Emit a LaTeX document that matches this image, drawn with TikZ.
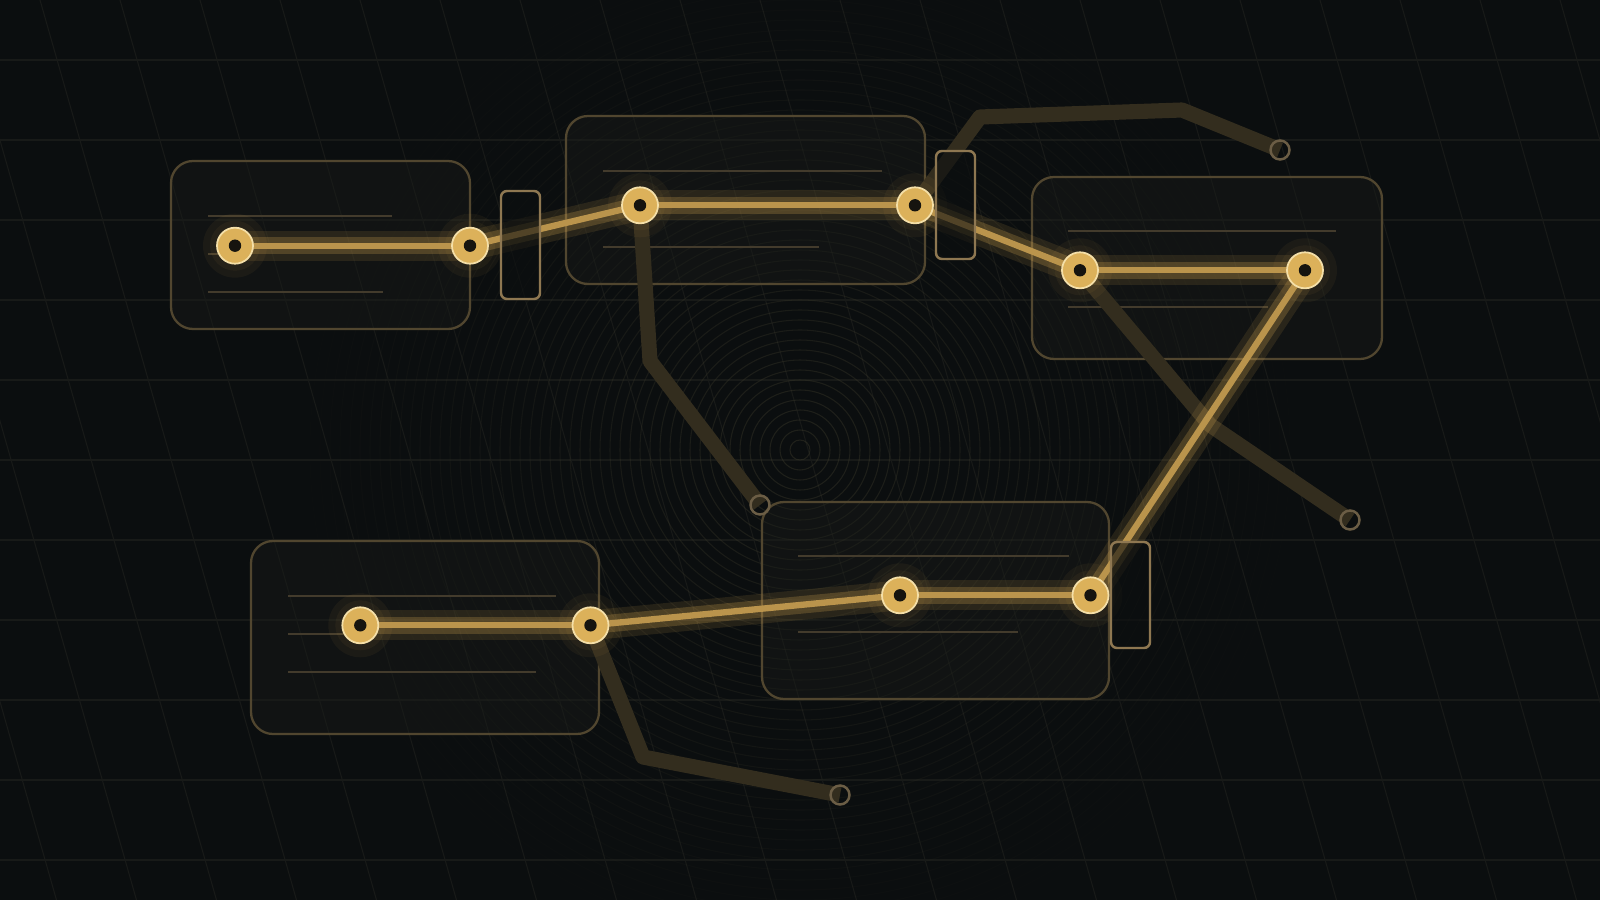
\documentclass[tikz,border=0pt]{standalone}
\usetikzlibrary{positioning}

\definecolor{bg}{HTML}{0B0E0F}
\definecolor{gridcol}{HTML}{181A18}
\definecolor{ringcol}{HTML}{3E3C2C}
\definecolor{cardfill}{HTML}{1A1C19}
\definecolor{cardline}{HTML}{51462F}
\definecolor{barline}{HTML}{433B2C}
\definecolor{gateline}{HTML}{8E7751}
\definecolor{gold}{HTML}{CFA24E}
\definecolor{wirecol}{HTML}{BA944C}
\definecolor{pinfill}{HTML}{DCB15A}
\definecolor{pinring}{HTML}{F4DFA8}
\definecolor{pinhole}{HTML}{16140F}
\definecolor{tracecol}{HTML}{332D1E}
\definecolor{stubline}{HTML}{6B5D45}

\pgfdeclarelayer{under}
\pgfdeclarelayer{wire}
\pgfsetlayers{under,wire,main}

\tikzset{
  gridline/.style={draw=gridcol, line width=0.3pt},
  ring/.style={draw=ringcol, line width=0.3pt},
  card/.style={draw=cardline, fill=cardfill, fill opacity=0.4, line width=0.65pt,
    rounded corners=2.2mm, inner sep=0pt},
  bar/.style={draw=barline, line width=0.5pt},
  gate/.style={draw=gateline, fill=bg, fill opacity=0.6, line width=0.7pt,
    rounded corners=0.6mm, minimum width=3.9mm, minimum height=10.8mm, inner sep=0pt},
  pin/.style={circle, minimum size=3.6mm, inner sep=0pt, fill=pinfill, draw=pinring,
    line width=0.5pt,
    path picture={\fill[pinhole] (path picture bounding box.center) circle (0.62mm);}},
  stub/.style={circle, draw=stubline, line width=0.7pt, minimum size=1.9mm, inner sep=0pt},
  trace/.style={draw=tracecol, line width=4.3pt, line join=round},
  glowwide/.style={draw=gold, line width=8.5pt, opacity=0.13},
  glow/.style={draw=gold, line width=5pt, opacity=0.25},
  core/.style={draw=wirecol, line width=1.8pt},
  halo/.style={fill=gold, opacity=0.06}
}

\begin{document}
\begin{tikzpicture}[x=0.1mm, y=-0.1mm]
  \useasboundingbox (0,0) rectangle (1600,900);

  %% Background, grid and rings
  \begin{pgfonlayer}{under}
    \fill[bg] (0,0) rectangle (1600,900);
    \begin{scope}
      \clip (0,0) rectangle (1600,900);
      \foreach \k in {0,...,10}
        \draw[gridline] (0,{60+80*\k}) -- (1600,{60+80*\k});
      \foreach \k in {-4,...,19}
        \draw[gridline] ({40+80*\k},0) -- ({296.5+80*\k},900);
      \foreach \r [evaluate=\r as \op using {0.42*(1-\r/520)}] in {10,20,...,500}
        \draw[ring, opacity=\op] (800,450) circle (\r);
    \end{scope}

    %% Draw the cards
    \node[card, minimum width=29.9mm, minimum height=16.8mm] (A) at (320.5,245) {};
    \node[card, minimum width=35.9mm, minimum height=16.8mm] (B) at (745.5,200) {};
    \node[card, minimum width=35.0mm, minimum height=18.2mm] (C) at (1207,268) {};
    \node[card, minimum width=34.7mm, minimum height=19.7mm] (D) at (935.5,600.5) {};
    \node[card, minimum width=34.8mm, minimum height=19.3mm] (E) at (425,637.5) {};

    %% Placeholder text bars
    \draw[bar] (208,215.7) -- (392,215.7);
    \draw[bar] (208,254) -- (230,254);
    \draw[bar] (208,291.7) -- (383,291.7);
    \draw[bar] (603,170.7) -- (882,170.7);
    \draw[bar] (603,246.7) -- (819,246.7);
    \draw[bar] (1068,230.7) -- (1336,230.7);
    \draw[bar] (1068,306.7) -- (1268,306.7);
    \draw[bar] (798,556) -- (1069,556);
    \draw[bar] (798,632) -- (1018,632);
    \draw[bar] (288,596) -- (556,596);
    \draw[bar] (288,634) -- (350,634);
    \draw[bar] (288,672) -- (536,672);
  \end{pgfonlayer}

  %% Draw the gates
  \node[gate] (p1) at (520.5,245) {};
  \node[gate] (p2) at (955.5,205) {};
  \node[gate, minimum height=10.6mm] (p3) at (1130.5,595) {};

  %% Draw the pins
  \node[pin] (a1) at (235,245.7) {};
  \node[pin] (a2) at (470,245.7) {};
  \node[pin] (b1) at (640,205.3) {};
  \node[pin] (b2) at (915,205.3) {};
  \node[pin] (c1) at (1080,270.3) {};
  \node[pin] (c2) at (1305,270.3) {};
  \node[pin] (d1) at (900,595.3) {};
  \node[pin] (d2) at (1090.5,595.3) {};
  \node[pin] (e1) at (360.3,625.3) {};
  \node[pin] (e2) at (590.5,625.3) {};

  %% Draw the loose ends
  \node[stub] (s1) at (760,505) {};
  \node[stub] (s2) at (1280,150) {};
  \node[stub] (s3) at (1350,520) {};
  \node[stub] (s4) at (840,795) {};

  %% Draw the wires
  \begin{pgfonlayer}{wire}
    \draw[trace] (b1.center) -- (650,361) -- (s1.center);
    \draw[trace] (b2.center) -- (980,117) -- (1182,110) -- (s2.center);
    \draw[trace] (c1.center) -- (1210,425) -- (s3.center);
    \draw[trace] (e2.center) -- (643,757) -- (s4.center);
    \foreach \p in {a1,a2,b1,b2,c1,c2,d1,d2,e1,e2} {
      \fill[halo] (\p.center) circle (32);
      \fill[halo] (\p.center) circle (25);
    }
    \foreach \s/\t in {a1/a2, a2/b1, b1/b2, b2/c1, c1/c2, c2/d2, d2/d1, d1/e2, e2/e1} {
      \draw[glowwide] (\s.center) -- (\t.center);
      \draw[glow] (\s.center) -- (\t.center);
      \draw[core] (\s.center) -- (\t.center);
    }
  \end{pgfonlayer}
\end{tikzpicture}
\end{document}
